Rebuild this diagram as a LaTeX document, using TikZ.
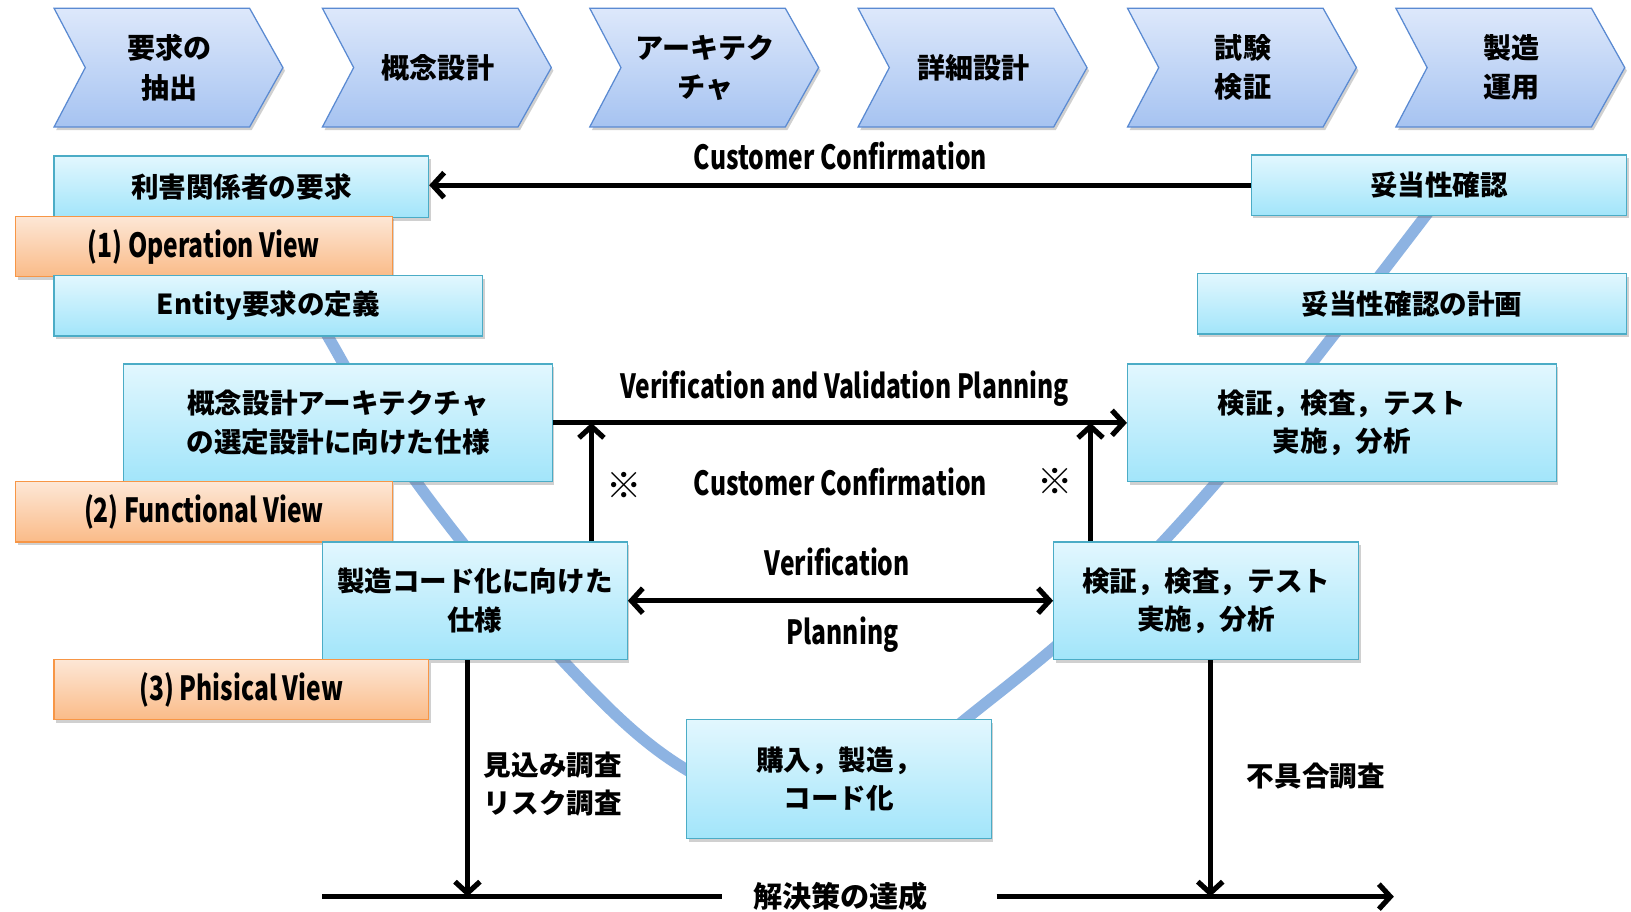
\documentclass[tikz,border=0pt]{standalone}
\usepackage{fontspec}
\usetikzlibrary{arrows.meta,shadows,calc}
\newfontfamily\jpf{Noto Sans CJK JP}
\newfontfamily\latf{Noto Sans CJK JP}[FakeStretch=0.74]
\definecolor{chevtop}{HTML}{DDE8FB}
\definecolor{chevbot}{HTML}{A6C3F1}
\definecolor{chevline}{HTML}{5A8AD2}
\definecolor{boxtop}{HTML}{E2F7FE}
\definecolor{boxbot}{HTML}{A2E5FA}
\definecolor{boxline}{HTML}{4BACC6}
\definecolor{orgtop}{HTML}{FDE7D6}
\definecolor{orgbot}{HTML}{FABB88}
\definecolor{orgline}{HTML}{F79646}
\definecolor{vband}{HTML}{8DB3E2}
\begin{document}
\begin{tikzpicture}[x=1pt,y=-1pt,
 shadowed/.style={drop shadow={shadow xshift=2pt,shadow yshift=-3pt,opacity=0.3,fill=black!60}},
 chev/.style={top color=chevtop,bottom color=chevbot,draw=chevline,line width=1.2pt,shadowed},
 chevtext/.style={font=\jpf\bfseries\fontsize{27}{38}\selectfont,align=center,inner sep=0pt},
 bbox/.style={top color=boxtop,bottom color=boxbot,draw=boxline,line width=1.2pt,shadowed,font=\jpf\bfseries\fontsize{26.5}{37}\selectfont,align=center,inner sep=0pt},
 obox/.style={top color=orgtop,bottom color=orgbot,draw=orgline,line width=1.2pt,shadowed,font=\latf\bfseries\fontsize{32}{38}\selectfont,inner sep=0pt},
 lat/.style={font=\latf\bfseries\fontsize{32}{38}\selectfont,inner sep=0pt},
 jp/.style={font=\jpf\bfseries\fontsize{26.5}{37}\selectfont,inner sep=0pt},
 kome/.style={font=\jpf\bfseries\fontsize{34}{38}\selectfont,inner sep=0pt},
 tip/.tip={Straight Barb[length=11pt,width=24pt]},
 arr/.style={line width=5pt,-tip},
 darr/.style={line width=5pt,tip-tip},
 plainline/.style={line width=5pt}
]
\useasboundingbox (0,0) rectangle (1568,876);
\fill[white] (0,0) rectangle (1568,876);

% V band
\draw[vband,line width=11pt] plot[smooth,tension=0.6] coordinates {(270,240) (315,323) (400,463) (540,634) (660,740) (800,790) (930,690) (1050,590) (1170,463) (1283,321) (1380,195)};

% chevrons
\foreach \x/\t/\n in {52/{要求の\\抽出}/c1, 310/{概念設計}/c2, 567/{アーキテク\\チャ}/c3, 825/{詳細設計}/c4, 1084/{試験\\検証}/c5, 1342/{製造\\運用}/c6}{
  \path[chev] (\x,8) -- ++(188,0) -- ++(32,57) -- ++(-32,57) -- ++(-188,0) -- ++(30,-57) -- cycle;
  \node[chevtext] (\n) at (\x+111,65) {\t};
}

% boxes
\node[bbox,minimum width=360pt,minimum height=59pt] (req) at (232,179.5) {利害関係者の要求};
\node[obox,minimum width=362pt,minimum height=58pt] (op) at (196,237) {(1) Operation View};
\node[bbox,minimum width=412pt,minimum height=58pt] (ent) at (258,294) {Entity要求の定義};
\node[bbox,minimum width=412pt,minimum height=113pt] (con) at (325,406.5) {概念設計アーキテクチャ\\の選定設計に向けた仕様};
\node[obox,minimum width=362pt,minimum height=58pt] (fun) at (196,492) {(2) Functional View};
\node[bbox,minimum width=293pt,minimum height=113pt] (mfg) at (456.5,577.5) {製造コード化に向けた\\仕様};
\node[obox,minimum width=360pt,minimum height=58pt] (phy) at (232,663) {(3) Phisical View};
\node[bbox,minimum width=293pt,minimum height=114pt] (buy) at (806.5,749) {購入，製造，\\コード化};
\node[bbox,minimum width=293pt,minimum height=113pt] (vl) at (1159.5,577.5) {検証，検査，テスト\\実施，分析};
\node[bbox,minimum width=412pt,minimum height=113pt] (vu) at (1290,406.5) {検証，検査，テスト\\実施，分析};
\node[bbox,minimum width=413pt,minimum height=58pt] (valp) at (1357.5,292) {妥当性確認の計画};
\node[bbox,minimum width=361pt,minimum height=58pt] (val) at (1383.5,178) {妥当性確認};

% connectors
\draw[arr] (val.west) -- (val.west -| req.east);
\node[lat] (cc1) at (808,150) {Customer Confirmation};
\draw[arr] (con.east) -- (vu.west);
\node[lat] (vvp) at (812,374) {Verification and Validation Planning};
\coordinate (lu) at ([xshift=-35pt]mfg.north east);
\draw[arr] (lu) -- (lu |- con.east);
\coordinate (ru) at ([xshift=36pt]vl.north west);
\draw[arr] (ru) -- (ru |- vu.west);
\node[kome] (k1) at (600,467) {※};
\node[kome] (k2) at (1014,463) {※};
\node[lat] (cc2) at (808,463) {Customer Confirmation};
\draw[darr] (mfg.east) -- (vl.west);
\node[lat] (ver) at (805,540) {Verification};
\node[lat] (pla) at (810,610) {Planning};
\node[jp,anchor=west,align=left] (risk) at (465,754) {見込み調査\\リスク調査};
\node[jp] (bug) at (1265,746) {不具合調査};
\coordinate (bl) at (310,862);
\coordinate (br) at (1340,862);
\node[jp,font=\jpf\bfseries\fontsize{28}{37}\selectfont] (goal) at (808,862) {解決策の達成};
\draw[plainline] (bl) -- ([xshift=-30pt]goal.west);
\draw[arr] ([xshift=66pt]goal.east) -- (br);
\coordinate (ld) at ([xshift=140pt]mfg.south west);
\draw[arr] (ld) -- (ld |- bl);
\coordinate (rd) at ([xshift=4pt]vl.south);
\draw[arr] (rd) -- (rd |- bl);
\end{tikzpicture}
\end{document}
